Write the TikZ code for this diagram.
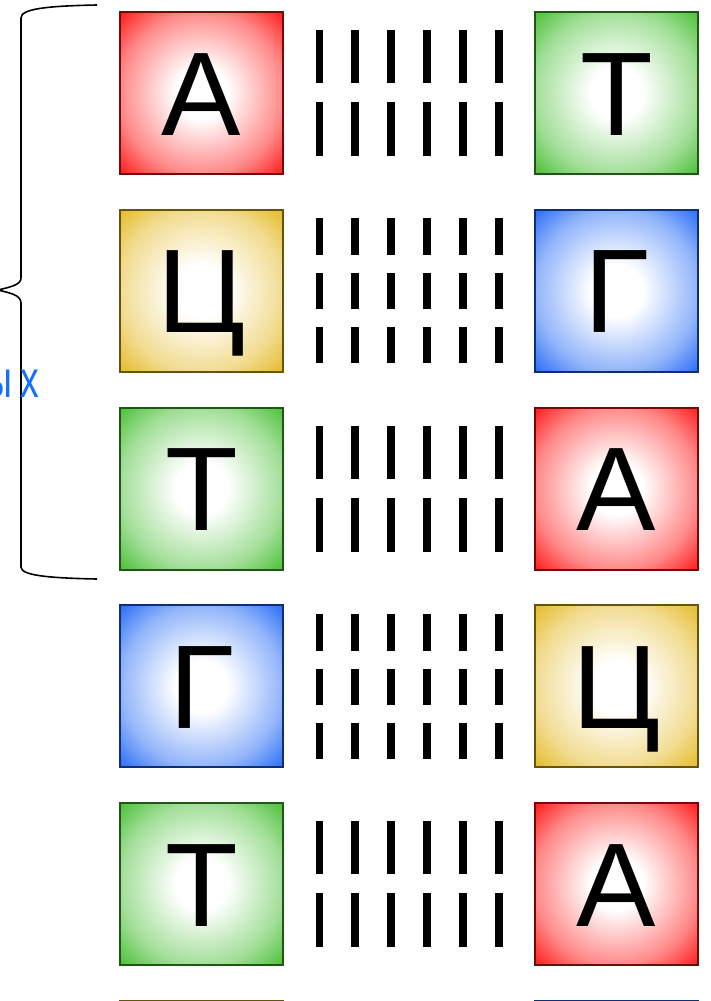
\documentclass[tikz,border=0pt]{standalone}
\usepackage{fontspec}
\setmainfont{Liberation Sans}
\definecolor{cA}{RGB}{255,20,20}
\definecolor{cT}{RGB}{70,190,50}
\definecolor{cG}{RGB}{35,105,245}
\definecolor{cC}{RGB}{228,185,35}
\definecolor{labelblue}{RGB}{20,110,255}
\colorlet{cAmid}{cA!50!white}
\colorlet{cTmid}{cT!50!white}
\colorlet{cGmid}{cG!50!white}
\colorlet{cCmid}{cC!50!white}
\pgfdeclareradialshading{shcA}{\pgfpoint{0bp}{0bp}}{color(0bp)=(white); color(8bp)=(white); color(25bp)=(cAmid); color(36bp)=(cA); color(50bp)=(cA)}
\pgfdeclareradialshading{shcT}{\pgfpoint{0bp}{0bp}}{color(0bp)=(white); color(8bp)=(white); color(25bp)=(cTmid); color(36bp)=(cT); color(50bp)=(cT)}
\pgfdeclareradialshading{shcG}{\pgfpoint{0bp}{0bp}}{color(0bp)=(white); color(8bp)=(white); color(25bp)=(cGmid); color(36bp)=(cG); color(50bp)=(cG)}
\pgfdeclareradialshading{shcC}{\pgfpoint{0bp}{0bp}}{color(0bp)=(white); color(8bp)=(white); color(25bp)=(cCmid); color(36bp)=(cC); color(50bp)=(cC)}
\tikzset{
  basebox/.style={rectangle, draw=#1!45!black, line width=2pt, shading=sh#1,
    minimum width=163pt, minimum height=162pt, inner sep=0pt},
  letter/.style={font=\fontsize{119}{119}\selectfont, anchor=base, inner sep=0pt, text=black},
  bond/.style={fill=black, draw=none},
  bracket/.style={draw=black, line width=1.6pt, line join=round},
  lbl/.style={font=\fontsize{52}{52}\selectfont, text=labelblue, inner sep=0pt, anchor=base east}
}
\begin{document}
\begin{tikzpicture}[x=1pt,y=-1pt]
\useasboundingbox (0,0) rectangle (710,1001);
\foreach \i/\l/\r/\cl/\cr/\n in {0/А/Т/cA/cT/2, 1/Ц/Г/cC/cG/3, 2/Т/А/cT/cA/2, 3/Г/Ц/cG/cC/3, 4/Т/А/cT/cA/2, 5//Г/cC/cG/3}{
  \pgfmathsetmacro{\c}{93+197.75*\i}
  \node[basebox=\cl] (L\i) at (201.5,\c) {};
  \node[basebox=\cr] (R\i) at (616.5,\c) {};
  \ifnum\i<5
    \node[letter] (LT\i) at (201.5,\c+42) {\l};
    \node[letter] (RT\i) at (616.5,\c+42) {\r};
  \fi
  \foreach \k in {0,...,5}{
    \pgfmathsetmacro{\bx}{319.3+35.9*\k}
    \ifnum\n=2
      \fill[bond] (\bx-3.8,\c-63) rectangle (\bx+3.8,\c-10);
      \fill[bond] (\bx-3.8,\c+9) rectangle (\bx+3.8,\c+63);
    \else
      \fill[bond] (\bx-3.8,\c-72.5) rectangle (\bx+3.8,\c-35.5);
      \fill[bond] (\bx-3.8,\c-17.5) rectangle (\bx+3.8,\c+18.5);
      \fill[bond] (\bx-3.8,\c+36.5) rectangle (\bx+3.8,\c+72.5);
    \fi
  }
}
% braces
\draw[bracket] (97,5) .. controls (45,6) and (21,9) .. (21,18) -- (21,278)
  .. controls (21,285) and (10,287) .. (-2,290);
\draw[bracket] (-2,290) .. controls (10,293) and (21,295) .. (21,303) -- (21,567)
  .. controls (21,575) and (45,578) .. (97,579);
\node[lbl] (label) at (39,397) {\scalebox{0.72}[1]{ы\kern11pt х}};
\end{tikzpicture}
\end{document}
